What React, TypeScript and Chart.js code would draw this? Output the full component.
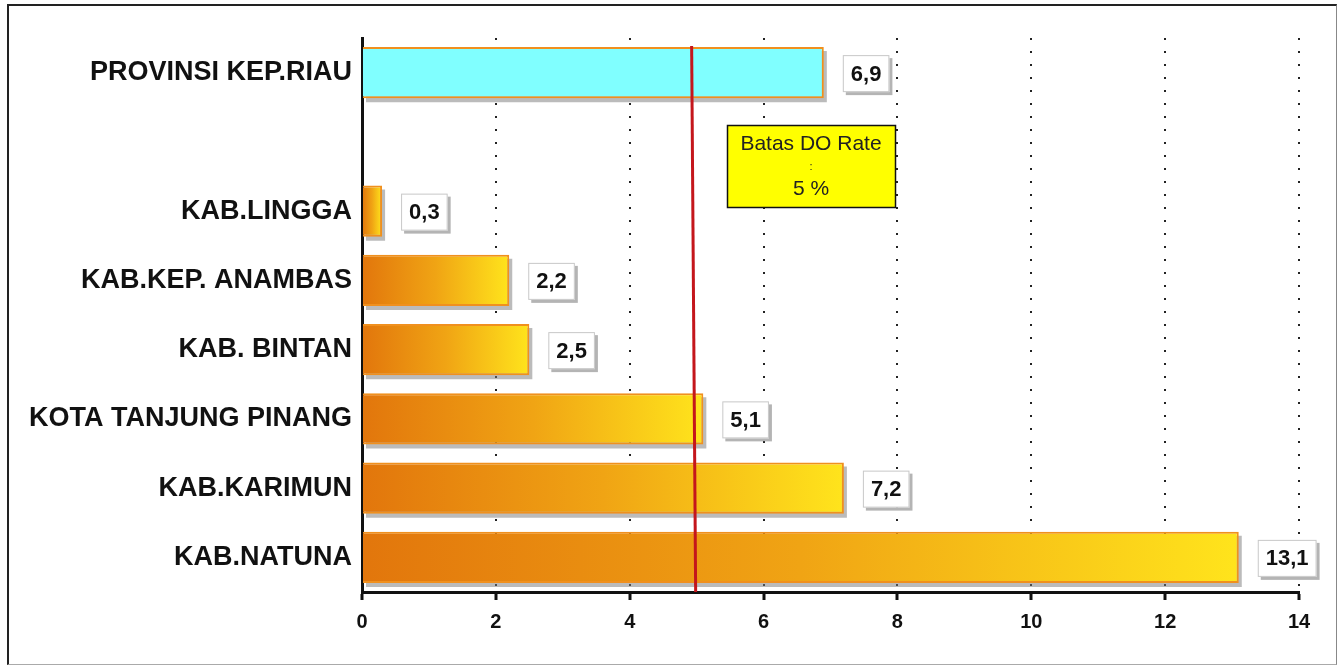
import React, { useEffect, useRef } from "react";
import { Chart, registerables } from "chart.js";

Chart.register(...registerables);

const categories = [
  "PROVINSI KEP.RIAU",
  "",
  "KAB.LINGGA",
  "KAB.KEP. ANAMBAS",
  "KAB. BINTAN",
  "KOTA TANJUNG PINANG",
  "KAB.KARIMUN",
  "KAB.NATUNA",
];
const doRates: (number | null)[] = [6.9, null, 0.3, 2.2, 2.5, 5.1, 7.2, 13.1];
const valueLabels = ["6,9", "", "0,3", "2,2", "2,5", "5,1", "7,2", "13,1"];
const xTicks = [0, 2, 4, 6, 8, 10, 12, 14];
const thresholdValue = 5;
const thresholdText = ["Batas DO Rate", ":", "5 %"];

const FONT = "'Liberation Sans', Arial, sans-serif";

const shadowPlugin = {
  id: "barShadow",
  beforeDatasetsDraw(chart: any) {
    const ctx = chart.ctx;
    const meta = chart.getDatasetMeta(0);
    ctx.save();
    ctx.fillStyle = "rgba(120,120,120,0.5)";
    meta.data.forEach((bar: any, i: number) => {
      if (doRates[i] == null) return;
      const { x, y, base, height } = bar.getProps(["x", "y", "base", "height"], true);
      ctx.fillRect(base + 3, y - height / 2 + 4, x - base, height);
    });
    ctx.restore();
  },
};

const overlayPlugin = {
  id: "overlay",
  afterDatasetsDraw(chart: any) {
    const ctx = chart.ctx;
    const xs = chart.scales.x;
    const area = chart.chartArea;
    const meta = chart.getDatasetMeta(0);
    ctx.save();
    // threshold line
    const tx = xs.getPixelForValue(thresholdValue);
    ctx.strokeStyle = "#C4161C";
    ctx.lineWidth = 3;
    ctx.beginPath();
    ctx.moveTo(tx - 5, area.top + 8);
    ctx.lineTo(tx - 1, area.bottom);
    ctx.stroke();

    // annotation box
    const bx = 727, by = 125, bw = 168, bh = 82;
    ctx.fillStyle = "#FFFF00";
    ctx.fillRect(bx, by, bw, bh);
    ctx.strokeStyle = "#111";
    ctx.lineWidth = 1.5;
    ctx.strokeRect(bx + 0.5, by + 0.5, bw, bh);
    ctx.fillStyle = "#222";
    ctx.textAlign = "center";
    ctx.textBaseline = "middle";
    ctx.font = `21px ${FONT}`;
    ctx.fillText(thresholdText[0], bx + bw / 2, by + 19);
    ctx.font = `11px ${FONT}`;
    ctx.fillText(thresholdText[1], bx + bw / 2, by + 42);
    ctx.font = `21px ${FONT}`;
    ctx.fillText(thresholdText[2], bx + bw / 2, by + 64);

    // value label boxes
    ctx.font = `bold 22px ${FONT}`;
    meta.data.forEach((bar: any, i: number) => {
      if (doRates[i] == null) return;
      const { x, y } = bar.getProps(["x", "y"], true);
      const text = valueLabels[i];
      const tw = ctx.measureText(text).width;
      const w = tw + 16;
      const h = 37;
      const left = x + 19;
      const top = y - h / 2 + 1;
      ctx.fillStyle = "rgba(130,130,130,0.6)";
      ctx.fillRect(left + 3, top + 3, w, h);
      ctx.fillStyle = "#FFFFFF";
      ctx.fillRect(left, top, w, h);
      ctx.strokeStyle = "#C8C8C8";
      ctx.lineWidth = 1;
      ctx.strokeRect(left + 0.5, top + 0.5, w - 1, h - 1);
      ctx.fillStyle = "#111";
      ctx.textAlign = "center";
      ctx.textBaseline = "middle";
      ctx.fillText(text, left + w / 2, top + h / 2 + 1);
    });
    ctx.restore();
  },
};

export default function App() {
  const canvasRef = useRef<HTMLCanvasElement | null>(null);

  useEffect(() => {
    document.body.style.margin = "0";
    const canvas = canvasRef.current!;
    const chart = new Chart(canvas, {
      type: "bar",
      data: {
        labels: categories,
        datasets: [
          {
            data: doRates as any,
            backgroundColor: (c: any) => {
              const i = c.dataIndex;
              if (i === 0) return "#80FFFF";
              const chartObj = c.chart;
              const xs = chartObj.scales.x;
              if (!xs || !chartObj.chartArea) return "#F0A020";
              const v = doRates[i] ?? 0;
              const x0 = xs.getPixelForValue(0);
              const x1 = xs.getPixelForValue(v);
              const g = chartObj.ctx.createLinearGradient(x0, 0, Math.max(x1, x0 + 1), 0);
              g.addColorStop(0, "#E2760C");
              g.addColorStop(0.5, "#F0A414");
              g.addColorStop(1, "#FFE41C");
              return g;
            },
            borderColor: "#F0901E",
            borderWidth: 2,
            borderSkipped: "left",
            categoryPercentage: 1,
            barPercentage: 0.74,
          },
        ],
      },
      plugins: [shadowPlugin, overlayPlugin],
      options: {
        indexAxis: "y",
        animation: false,
        responsive: false,
        maintainAspectRatio: false,
        layout: { padding: { top: 38, right: 44, left: 0, bottom: 0 } },
        plugins: {
          legend: { display: false },
          tooltip: { enabled: false },
        },
        scales: {
          x: {
            type: "linear",
            min: 0,
            max: 14,
            afterBuildTicks: (scale: any) => {
              scale.ticks = xTicks.map((v) => ({ value: v }));
            },
            afterFit: (scale: any) => {
              scale.height = 76;
            },
            ticks: {
              color: "#111",
              font: { family: FONT, size: 20, weight: "bold" },
              padding: 10,
            },
            grid: {
              color: (c: any) => (c.tick && c.tick.value === 0 ? "rgba(0,0,0,0)" : "#222"),
              lineWidth: 2,
              drawTicks: true,
              tickLength: 8,
              tickColor: "#111",
              tickWidth: 3,
              tickBorderDash: [],
            },
            border: { display: true, color: "#111", width: 3, dash: [2, 11] },
          },
          y: {
            afterFit: (scale: any) => {
              scale.width = 362;
            },
            ticks: {
              color: "#111",
              font: { family: FONT, size: 27, weight: "bold" },
              padding: 10,
            },
            grid: { display: false, drawTicks: false },
            border: { display: true, color: "#111", width: 3 },
          },
        },
      } as any,
    });
    return () => chart.destroy();
  }, []);

  return (
    <div style={{ position: "relative", width: 1343, height: 668, background: "#fff" }}>
      <canvas
        ref={canvasRef}
        width={1343}
        height={668}
        style={{ position: "absolute", left: 0, top: 0, width: 1343, height: 668 }}
      />
      <div
        style={{
          position: "absolute",
          left: 7,
          top: 4,
          width: 1330,
          height: 661,
          borderTop: "2px solid #222",
          borderLeft: "2px solid #222",
          borderRight: "1px solid #888",
          borderBottom: "1px solid #aaa",
          boxSizing: "border-box",
          pointerEvents: "none",
        }}
      />
    </div>
  );
}
